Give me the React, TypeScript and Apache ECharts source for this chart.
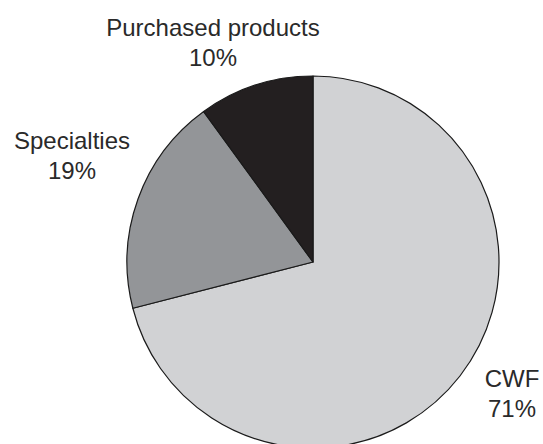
import React, { useEffect, useRef } from "react";
import * as echarts from "echarts";

const categories = ["CWF", "Specialties", "Purchased products"];
const shares = [71, 19, 10];
const colors = ["#d1d2d4", "#939598", "#231f20"];
const labelPos: Record<string, [number, number]> = {
  CWF: [512, 393],
  Specialties: [72, 155],
  "Purchased products": [213, 42],
};

export default function App() {
  const ref = useRef<HTMLDivElement>(null);
  useEffect(() => {
    if (!ref.current) return;
    const chart = echarts.init(ref.current, null, { renderer: "svg" });
    chart.setOption({
      animation: false,
      backgroundColor: "#ffffff",
      series: [
        {
          type: "pie",
          center: [313, 262],
          radius: 186,
          startAngle: 90,
          clockwise: true,
          data: categories.map((c, i) => ({
            name: c,
            value: shares[i],
            itemStyle: { color: colors[i] },
          })),
          itemStyle: { borderColor: "#1a1a1a", borderWidth: 1.2 },
          label: {
            show: true,
            position: "outside",
            alignTo: "none",
            overflow: "none",
            formatter: (p: any) => `${p.name}\n${p.value}%`,
            fontFamily: "Liberation Sans, Arial, sans-serif",
            fontSize: 24,
            lineHeight: 30,
            color: "#2a2a2a",
            align: "center",
          },
          labelLine: { show: false },
          labelLayout: (params: any) => {
            const name = categories[params.dataIndex];
            const [x, y] = labelPos[name];
            return { x, y, align: "center", verticalAlign: "middle" };
          },
          emphasis: { disabled: true },
        },
      ],
    });
    return () => chart.dispose();
  }, []);
  return (
    <div
      ref={ref}
      style={{ position: "absolute", left: 0, top: 0, width: 543, height: 444 }}
    />
  );
}
